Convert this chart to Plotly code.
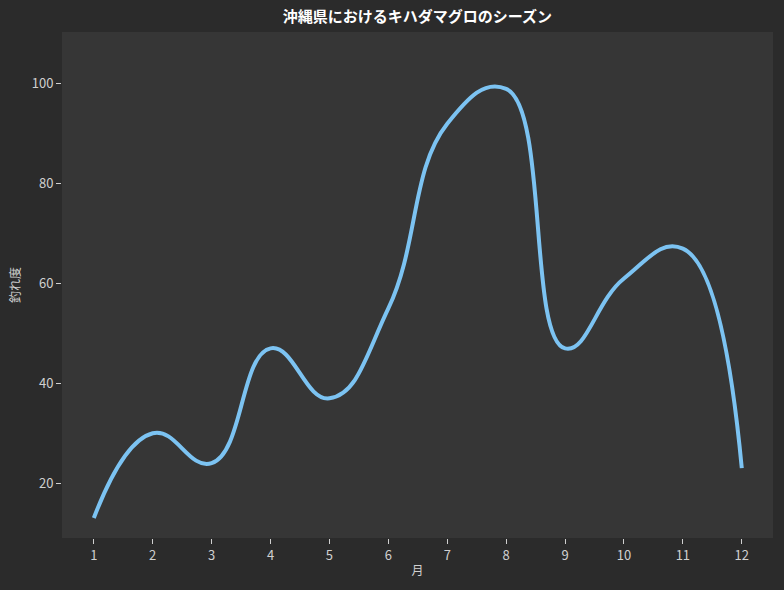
import plotly.graph_objects as go

months = [1, 2, 3, 4, 5, 6, 7, 8, 9, 10, 11, 12]
catch_rate = [13, 30, 24, 47, 37, 55, 92, 99, 47, 61, 67, 23]

font_family = "Noto Sans CJK JP"

fig = go.Figure()
fig.add_trace(go.Scatter(
    x=months,
    y=catch_rate,
    mode="lines",
    line=dict(color="#7cc3f2", width=4, shape="spline", smoothing=1.3),
    showlegend=False,
))

fig.update_layout(
    width=784,
    height=590,
    paper_bgcolor="#2b2b2b",
    plot_bgcolor="#363636",
    margin=dict(l=62, r=11, t=32, b=52),
    title=dict(
        text="<b>沖縄県におけるキハダマグロのシーズン</b>",
        xref="paper", x=0.5, xanchor="center", y=0.972, yanchor="middle",
        font=dict(family=font_family, size=15, color="#ffffff"),
    ),
    font=dict(family=font_family, size=13, color="#d0d0d0"),
)

fig.update_xaxes(
    range=[0.46, 12.53],
    tickmode="array",
    tickvals=months,
    ticks="outside",
    ticklen=5,
    tickcolor="#d0d0d0",
    showgrid=False,
    zeroline=False,
    title=dict(text="月", font=dict(size=12, color="#d0d0d0"), standoff=4),
)
fig.update_yaxes(
    range=[9.0, 110.4],
    tickvals=[20, 40, 60, 80, 100],
    ticks="outside",
    ticklen=5,
    tickcolor="#d0d0d0",
    showgrid=False,
    zeroline=False,
    title=dict(text="釣れ度", font=dict(size=12, color="#d0d0d0"), standoff=8),
)

# remove the default page margin so the figure fills the window
fig.write_html(
    "out.html",
    config={"displayModeBar": False},
    post_script="document.body.style.margin='0';",
)
